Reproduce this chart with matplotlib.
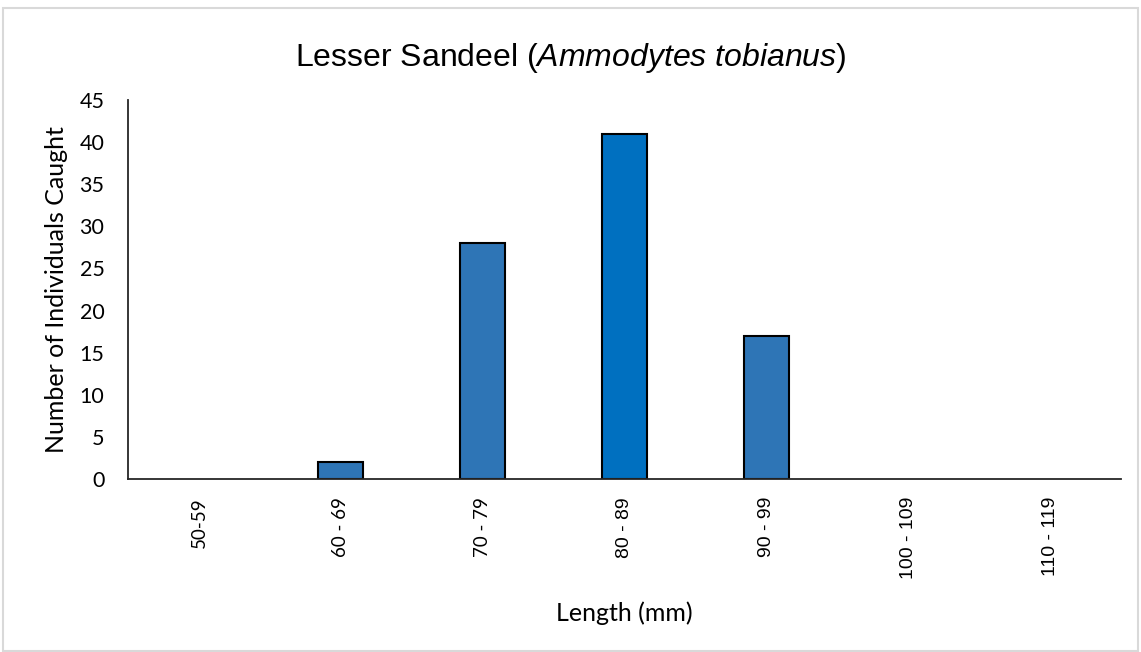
"""Lesser Sandeel length distribution, Excel-style bar chart."""

import matplotlib.pyplot as plt
from matplotlib.patches import Rectangle

plt.rcParams["mathtext.fontset"] = "custom"
plt.rcParams["mathtext.rm"] = "Liberation Sans"
plt.rcParams["mathtext.it"] = "Liberation Sans:italic"

categories = ["50-59", "60 - 69", "70 - 79", "80 - 89", "90 - 99", "100 - 109", "110 - 119"]
counts = [0, 2, 28, 41, 17, 0, 0]
bar_colors = ["#2E75B6", "#2E75B6", "#2E75B6", "#0070C0", "#2E75B6", "#2E75B6", "#2E75B6"]
y_ticks = [0, 5, 10, 15, 20, 25, 30, 35, 40, 45]

BODY_FONT = "Lato"
W, H = 1141, 652

fig = plt.figure(figsize=(W / 100, H / 100), dpi=100)
ax = fig.add_axes([128 / W, 1 - 479 / H, (1121 - 128) / W, (479 - 100) / H])

x = list(range(len(categories)))
# empty bins get no outline so the axis line stays clean
edge_widths = [1.5 if c > 0 else 0 for c in counts]
ax.bar(x, counts, width=0.32, color=bar_colors, edgecolor="black",
       linewidth=edge_widths, zorder=2)

ax.set_xlim(-0.5, len(categories) - 0.5)
ax.set_ylim(0, 45)
ax.set_yticks(y_ticks)
ax.set_yticklabels([str(v) for v in y_ticks], fontsize=15.5, family=BODY_FONT)
ax.set_xticks(x)
ax.set_xticklabels(categories, rotation=90, fontsize=13.5, family=BODY_FONT)
for lbl in ax.get_xticklabels()[3:]:
    lbl.set_family("Liberation Sans")
    lbl.set_fontsize(14)
ax.tick_params(axis="y", length=0, pad=17)
ax.tick_params(axis="x", length=0, pad=13)

for side in ("top", "right"):
    ax.spines[side].set_visible(False)
for side in ("left", "bottom"):
    ax.spines[side].set_color("#262626")
    ax.spines[side].set_linewidth(1.3)
    ax.spines[side].set_zorder(3)

ax.set_ylabel("Number of Individuals Caught", fontsize=18, family=BODY_FONT)
ax.yaxis.set_label_coords(-(128 - 57) / (1121 - 128), 0.5)
ax.set_xlabel("Length (mm)", fontsize=18, family=BODY_FONT)
ax.xaxis.set_label_coords(0.5, -(613 - 479) / (479 - 100))
ax.xaxis.label.set_va("center")
ax.yaxis.label.set_va("center")

fig.text(571 / W, 1 - 58 / H,
         r"Lesser Sandeel ($\mathit{Ammodytes\ tobianus}$)",
         ha="center", va="center", fontsize=23, family="Liberation Sans")

fig.patches.append(Rectangle((3 / W, 1 / H), (W - 6) / W, (H - 9) / H,
                             transform=fig.transFigure, fill=False,
                             edgecolor="#D9D9D9", linewidth=1.5))

fig.savefig("out.png", dpi=100)
